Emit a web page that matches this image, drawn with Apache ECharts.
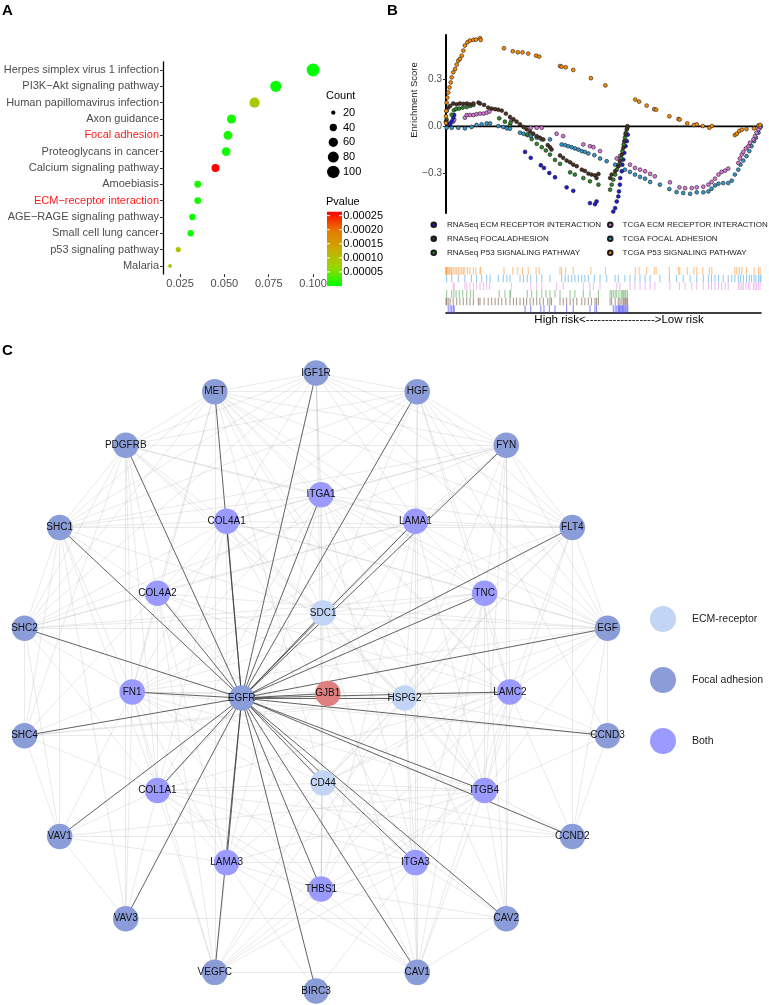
<!DOCTYPE html>
<html><head><meta charset="utf-8">
<script src="https://cdn.jsdelivr.net/npm/echarts@6/dist/echarts.min.js"></script>
<style>html,body{margin:0;padding:0;background:#fff}#c{width:769px;height:1005px}</style>
</head><body><div id="c"></div>
<script>
// ================= Panel A data =================
const pathways = ['Herpes simplex virus 1 infection','PI3K\u2212Akt signaling pathway','Human papillomavirus infection','Axon guidance','Focal adhesion','Proteoglycans in cancer','Calcium signaling pathway','Amoebiasis','ECM\u2212receptor interaction','AGE\u2212RAGE signaling pathway','Small cell lung cancer','p53 signaling pathway','Malaria'];
const highlighted = ['Focal adhesion','ECM\u2212receptor interaction'];
const geneRatio = [0.100,0.079,0.067,0.054,0.052,0.051,0.045,0.035,0.035,0.032,0.031,0.024,0.0194];
const counts = [105,83,70,57,55,53,47,37,37,34,33,25,18];
const pvalues = [0.000001,0.000003,0.00009,0.000008,0.000012,0.000006,0.000264,0.000012,0.000010,0.000006,0.000005,0.000095,0.000085];
const ratioTicks = [0.025,0.050,0.075,0.100];
const countBreaks = [20,40,60,80,100];
const pvalueBreaks = [0.00025,0.00020,0.00015,0.00010,0.00005];
const pvalueLimits = [0,0.000264];

// ================= Panel B data (rank %, enrichment score) =================
const tcgaP53 = [[0,0.021],[0,0.064],[0.1,0.098],[0.2,0.151],[0.4,0.183],[0.7,0.215],[1.1,0.247],[1.5,0.279],[1.8,0.311],[2.3,0.343],[2.9,0.364],[3.4,0.392],[3.9,0.417],[4.4,0.428],[5.0,0.449],[5.5,0.481],[6.0,0.513],[6.8,0.534],[7.6,0.545],[8.7,0.549],[9.5,0.551],[10.8,0.560],[11.0,0.549],[18.4,0.496],[21.2,0.477],[22.8,0.470],[24.3,0.470],[26.1,0.462],[28.6,0.449],[29.6,0.443],[36.2,0.383],[36.7,0.379],[38.0,0.375],[40.4,0.358],[46.0,0.306],[50.6,0.260],[60.1,0.170],[61.3,0.157],[63.7,0.132],[66.1,0.109],[66.7,0.106],[70.9,0.064],[73.8,0.047],[74.2,0.043],[76.6,0.019],[78.7,0.009],[79.6,0.013],[81.5,0.002],[83.6,-0.009],[84.4,0.002],[91.7,-0.055],[92.3,-0.047],[93.1,-0.030],[93.9,-0.021],[95.4,-0.017],[97.8,-0.013],[99.2,0.006],[99.7,0.009]];
const tcgaFocal = [[0.2,-0.009],[1.8,-0.009],[3.9,-0.009],[6.0,-0.013],[8.1,-0.004],[9.7,0.009],[11.3,0.013],[12.9,0.019],[14.0,0.019],[16.6,0.002],[18.2,-0.004],[19.3,-0.013],[20.3,-0.015],[23.5,-0.040],[24.6,-0.047],[25.8,-0.055],[26.9,-0.062],[28.8,-0.072],[30.4,-0.083],[33.0,-0.083],[36.7,-0.115],[37.8,-0.119],[38.8,-0.126],[39.9,-0.132],[40.9,-0.140],[42.0,-0.147],[43.1,-0.157],[44.1,-0.162],[45.2,-0.172],[47.1,-0.183],[48.9,-0.204],[51.0,-0.221],[53.7,-0.243],[54.7,-0.253],[56.8,-0.275],[58.4,-0.289],[60.0,-0.306],[61.6,-0.321],[63.2,-0.332],[64.8,-0.353],[67.9,-0.370],[70.9,-0.398],[73.2,-0.417],[75.3,-0.423],[77.5,-0.428],[79.6,-0.419],[81.7,-0.419],[83.3,-0.413],[84.3,-0.396],[85.4,-0.375],[86.5,-0.364],[88.0,-0.360],[89.6,-0.360],[90.7,-0.345],[91.7,-0.306],[92.8,-0.275],[93.5,-0.243],[94.4,-0.217],[95.4,-0.189],[96.3,-0.157],[97.0,-0.126],[97.8,-0.094],[98.4,-0.072],[99.2,-0.040],[99.7,-0.009],[100,0.002]];
const tcgaEcm = [[2.3,0.030],[2.6,0.043],[6.0,0.055],[6.6,0.072],[7.6,0.072],[8.7,0.072],[9.7,0.077],[10.8,0.081],[11.9,0.081],[12.9,0.087],[13.8,0.094],[20.8,0.038],[26.9,-0.009],[28.8,-0.009],[30.4,-0.009],[35.1,-0.047],[37.2,-0.062],[43.6,-0.115],[45.7,-0.126],[46.8,-0.132],[48.9,-0.157],[54.2,-0.204],[55.2,-0.189],[58.4,-0.243],[60.0,-0.264],[61.6,-0.275],[63.2,-0.285],[64.8,-0.302],[66.3,-0.317],[71.1,-0.355],[74.1,-0.387],[75.9,-0.392],[78.0,-0.392],[79.6,-0.387],[81.7,-0.383],[83.3,-0.370],[84.3,-0.353],[85.4,-0.332],[86.5,-0.306],[87.5,-0.289],[88.6,-0.281],[89.6,-0.268],[92.8,-0.232],[93.3,-0.204],[93.9,-0.179],[94.4,-0.162],[95.2,-0.140],[96.0,-0.126],[96.5,-0.104],[97.6,-0.083],[98.1,-0.062],[98.6,-0.040],[99.2,-0.019],[99.7,-0.004]];
const rnaseqEcm = [[0.7,0.017],[1.3,0.013],[1.8,0.032],[2.3,0.055],[2.6,0.072],[25.1,-0.162],[26.9,-0.200],[30.1,-0.247],[31.1,-0.264],[32.8,-0.296],[34.6,-0.323],[38.3,-0.387],[40.4,-0.409],[45.7,-0.487],[47.3,-0.494],[47.8,-0.477],[53.1,-0.541],[53.7,-0.519],[54.2,-0.477],[54.7,-0.445],[54.9,-0.413],[55.2,-0.370],[55.3,-0.328],[55.8,-0.285],[56.0,-0.243],[56.3,-0.211],[56.6,-0.168],[57.0,-0.126],[57.4,-0.094],[57.7,-0.053]];
const rnaseqFocal = [[0,0.032],[0.2,0.098],[0.7,0.119],[1.3,0.130],[2.3,0.145],[3.4,0.140],[4.4,0.145],[5.5,0.143],[6.6,0.145],[7.6,0.140],[8.7,0.145],[10.3,0.151],[10.8,0.145],[12.1,0.136],[13.4,0.119],[14.5,0.113],[15.6,0.109],[16.6,0.106],[17.7,0.100],[19.0,0.081],[20.3,0.060],[21.4,0.045],[22.4,0.030],[23.5,0.013],[24.6,-0.004],[25.6,-0.019],[26.7,-0.034],[27.7,-0.047],[28.8,-0.062],[29.8,-0.072],[30.9,-0.083],[32.3,-0.119],[33.0,-0.132],[33.5,-0.147],[36.2,-0.185],[37.2,-0.200],[38.3,-0.217],[39.4,-0.228],[40.4,-0.243],[41.5,-0.253],[43.1,-0.275],[44.1,-0.283],[45.2,-0.300],[46.2,-0.306],[47.3,-0.311],[47.8,-0.328],[48.4,-0.302],[52.1,-0.328],[52.6,-0.306],[53.7,-0.285],[54.7,-0.253],[55.2,-0.221],[55.8,-0.179],[56.3,-0.136],[56.6,-0.094],[57.0,-0.051],[57.4,-0.019],[57.6,0.002]];
const rnaseqP53 = [[0.2,0.043],[1.8,0.074],[2.5,0.102],[3.2,0.111],[4.2,0.113],[5.3,0.119],[6.6,0.123],[7.8,0.130],[8.7,0.136],[16.9,0.051],[18.7,0.030],[20.3,0.009],[20.5,0.023],[25.8,-0.051],[27.2,-0.081],[28.8,-0.111],[30.4,-0.132],[31.7,-0.153],[33.0,-0.179],[34.6,-0.213],[36.2,-0.238],[39.4,-0.292],[40.9,-0.306],[43.6,-0.328],[45.7,-0.349],[48.4,-0.370],[52.1,-0.402],[52.6,-0.370],[53.1,-0.338],[53.7,-0.306],[54.2,-0.275],[54.9,-0.243],[55.6,-0.200],[56.0,-0.157],[56.4,-0.115],[56.8,-0.072],[57.1,-0.040],[57.6,-0.009]];
const zeroLine = [[0,0],[100,0]];
const esTicks = [-0.3,0,0.3];
const riskLabel = 'High risk<------------------>Low risk';

// ================= Panel C data =================
const outerNodes = ['IGF1R','HGF','FYN','FLT4','EGF','CCND3','CCND2','CAV2','CAV1','BIRC3','VEGFC','VAV3','VAV1','SHC4','SHC2','SHC1','PDGFRB','MET'];
const innerNodes = ['ITGA1','LAMA1','TNC','LAMC2','ITGB4','ITGA3','THBS1','LAMA3','COL1A1','FN1','COL4A2','COL4A1'];
const coreNodes = ['SDC1','HSPG2','CD44','EGFR'];
const hubNodes = ['GJB1'];
const ecmGenes = ['SDC1','HSPG2','CD44'];
const bothGenes = innerNodes;
const focalGenes = outerNodes.concat(['EGFR']);
const egfrPartners = ['IGF1R','HGF','FYN','FLT4','EGF','CCND3','CCND2','CAV2','CAV1','BIRC3','VEGFC','VAV3','VAV1','SHC4','SHC2','SHC1','PDGFRB','MET','ITGA1','LAMA1','TNC','LAMC2','ITGB4','ITGA3','THBS1','LAMA3','COL1A1','FN1','COL4A2','COL4A1','SDC1','HSPG2','CD44','GJB1'];
const lightEdges = ('MET-IGF1R MET-HGF IGF1R-HGF IGF1R-FYN HGF-FYN MET-PDGFRB PDGFRB-FYN PDGFRB-SHC1 SHC1-SHC2 SHC1-FLT4 SHC2-EGF SHC2-SHC4 SHC4-CCND3 VAV1-CCND2 VAV1-VAV3 VAV3-CAV2 VEGFC-CAV1 CAV1-CAV2 CCND3-CCND2 FLT4-EGF FYN-FLT4 FYN-CAV2 PDGFRB-VAV3 SHC1-VAV1 HGF-CAV1 MET-VEGFC FLT4-CCND2 ' +
 'MET-ITGA1 MET-SDC1 MET-LAMA1 MET-TNC MET-HSPG2 MET-FN1 MET-COL4A2 MET-SHC1 MET-SHC2 MET-FYN MET-FLT4 MET-ITGB4 MET-CD44 MET-LAMC2 ' +
 'IGF1R-ITGA1 IGF1R-SHC1 IGF1R-PDGFRB IGF1R-COL4A1 IGF1R-SDC1 IGF1R-LAMA1 IGF1R-FLT4 IGF1R-EGF IGF1R-SHC2 IGF1R-CD44 ' +
 'HGF-LAMA1 HGF-ITGA1 HGF-COL4A1 HGF-SHC1 HGF-PDGFRB HGF-TNC HGF-EGF HGF-FLT4 HGF-SDC1 HGF-LAMC2 HGF-CCND3 ' +
 'FYN-LAMA1 FYN-ITGA1 FYN-COL4A1 FYN-SHC1 FYN-SHC2 FYN-TNC FYN-EGF FYN-LAMC2 FYN-ITGB4 FYN-SDC1 FYN-HSPG2 ' +
 'PDGFRB-COL4A1 PDGFRB-COL4A2 PDGFRB-SHC2 PDGFRB-FN1 PDGFRB-SDC1 PDGFRB-LAMA1 PDGFRB-ITGA1 PDGFRB-HSPG2 PDGFRB-SHC4 PDGFRB-COL1A1 ' +
 'SHC1-COL4A2 SHC1-FN1 SHC1-SHC4 SHC1-COL1A1 SHC1-ITGA1 SHC1-SDC1 SHC1-COL4A1 SHC1-VAV3 ' +
 'SHC2-FN1 SHC2-COL4A2 SHC2-COL4A1 SHC2-SDC1 SHC2-TNC SHC2-VAV1 SHC2-COL1A1 SHC2-LAMA1 ' +
 'SHC4-FN1 SHC4-COL1A1 SHC4-VAV1 SHC4-COL4A2 SHC4-LAMC2 SHC4-HSPG2 ' +
 'EGF-TNC EGF-LAMA1 EGF-SDC1 EGF-ITGA1 EGF-COL4A1 EGF-LAMC2 EGF-HSPG2 EGF-CD44 EGF-ITGB4 EGF-CCND3 EGF-FN1 EGF-COL4A2 EGF-CCND2 ' +
 'FLT4-TNC FLT4-LAMA1 FLT4-ITGA1 FLT4-COL4A1 FLT4-SDC1 FLT4-LAMC2 FLT4-HSPG2 FLT4-ITGB4 FLT4-CD44 ' +
 'CCND3-LAMC2 CCND3-ITGB4 CCND3-HSPG2 CCND3-FN1 CCND2-ITGB4 CCND2-LAMC2 CCND2-COL1A1 CCND2-CD44 ' +
 'CAV2-ITGB4 CAV2-ITGA3 CAV2-TNC CAV2-LAMC2 CAV2-CD44 CAV2-THBS1 CAV2-HSPG2 ' +
 'CAV1-ITGA3 CAV1-ITGB4 CAV1-THBS1 CAV1-CD44 CAV1-LAMA3 CAV1-LAMC2 CAV1-TNC CAV1-COL1A1 CAV1-SDC1 CAV1-HSPG2 ' +
 'BIRC3-LAMA3 BIRC3-ITGA3 ' +
 'VEGFC-LAMA3 VEGFC-COL1A1 VEGFC-THBS1 VEGFC-CD44 VEGFC-ITGA3 VEGFC-ITGB4 VEGFC-FN1 VEGFC-COL4A2 VEGFC-HSPG2 VEGFC-LAMC2 ' +
 'VAV3-COL1A1 VAV3-FN1 VAV1-COL1A1 VAV1-FN1 VAV1-LAMA3 VAV1-ITGB4 ' +
 'ITGA1-LAMA1 ITGA1-COL4A1 ITGA1-COL4A2 ITGA1-COL1A1 ITGA1-LAMA3 ITGA1-LAMC2 ITGA1-TNC ITGA1-THBS1 ITGA1-FN1 ITGA1-ITGB4 ITGA1-ITGA3 ' +
 'LAMA1-TNC LAMA1-ITGB4 LAMA1-ITGA3 LAMA1-COL4A2 LAMA1-FN1 LAMA1-COL1A1 LAMA1-LAMA3 LAMA1-THBS1 ' +
 'TNC-ITGB4 TNC-ITGA3 TNC-FN1 TNC-COL4A1 TNC-LAMC2 TNC-THBS1 LAMC2-ITGB4 LAMC2-ITGA3 LAMC2-FN1 LAMC2-COL1A1 LAMC2-COL4A2 ' +
 'ITGB4-ITGA3 ITGB4-LAMA3 ITGB4-COL1A1 ITGB4-FN1 ITGB4-THBS1 ITGA3-LAMA3 ITGA3-THBS1 ITGA3-COL1A1 ITGA3-FN1 ITGA3-COL4A1 ITGA3-COL4A2 ' +
 'THBS1-LAMA3 THBS1-COL1A1 THBS1-FN1 LAMA3-COL1A1 LAMA3-FN1 LAMA3-COL4A1 LAMA3-COL4A2 COL1A1-FN1 COL1A1-COL4A2 FN1-COL4A2 FN1-COL4A1 COL4A2-COL4A1 COL4A1-COL1A1 ' +
 'SDC1-FN1 SDC1-COL1A1 SDC1-LAMA1 SDC1-COL4A1 SDC1-TNC SDC1-THBS1 SDC1-LAMC2 SDC1-ITGB4 SDC1-HSPG2 ' +
 'HSPG2-FN1 HSPG2-LAMA1 HSPG2-LAMC2 HSPG2-ITGB4 HSPG2-COL4A1 HSPG2-COL4A2 HSPG2-TNC HSPG2-CD44 HSPG2-ITGA3 ' +
 'CD44-FN1 CD44-COL1A1 CD44-LAMA3 CD44-THBS1 CD44-ITGB4 CD44-LAMC2 CD44-TNC CD44-COL4A2 CD44-ITGA3').split(' ').map(s => s.split('-'));
const netLegend = ['ECM-receptor','Focal adhesion','Both'];

// ================= layout / style =================
const FONT = 'Liberation Sans, Arial, Helvetica, sans-serif';
const pColors = ['#00FF00','#98D700','#C9AB00','#E87600','#FF0000'];
const sizeOf = c => Math.sqrt(Math.max(2, 1.72 * c - 16));

const gA = {left:163, top:61.8, width:157, height:212.3};
const gB = {left:446, top:35, width:315, height:178};
const gR = {left:446, top:267, width:315, height:46};
const NET = {cx:316, cy:682, sx:296, sy:309, top:340, bottom:1005};
const rings = [
  {nodes: outerNodes, cx:0, cy:0, r:1, step:20},
  {nodes: innerNodes, cx:0.017, cy:0.032, r:0.638, step:30},
  {nodes: coreNodes, cx:0.024, cy:0.052, r:0.275, step:90},
  {nodes: hubNodes, cx:0.040, cy:0.037, r:0, step:0}
];
const catOf = n => ecmGenes.includes(n) ? 0 : (bothGenes.includes(n) ? 2 : (focalGenes.includes(n) ? 1 : 3));
const netNodes = [];
rings.forEach(rg => rg.nodes.forEach((n, i) => {
  const a = rg.step * i * Math.PI / 180;
  netNodes.push({name: n, value: [rg.cx + rg.r * Math.sin(a), rg.cy - rg.r * Math.cos(a)], category: catOf(n)});
}));
const netLinks = lightEdges.map(([s, t]) => ({source: s, target: t, lineStyle: {color: '#a8a8a8', width: 0.6, opacity: 0.42}}))
  .concat(egfrPartners.map(t => ({source: 'EGFR', target: t, lineStyle: {color: '#3a3a3a', width: 0.8, opacity: 1}})));

const bSets = [
  {name:'TCGA FOCAL ADHESION', data: tcgaFocal, color:'#3399cc', rug:'#55aadd', row:1},
  {name:'TCGA ECM RECEPTOR INTERACTION', data: tcgaEcm, color:'#dd77dd', rug:'#e49ae4', row:2},
  {name:'RNASeq ECM RECEPTOR INTERACTION', data: rnaseqEcm, color:'#1c1cd6', rug:'#4040ff', row:5},
  {name:'RNASeq P53 SIGNALING PATHWAY', data: rnaseqP53, color:'#2a8a2a', rug:'#5aaa5a', row:3},
  {name:'RNASeq FOCALADHESION', data: rnaseqFocal, color:'#4a3020', rug:'#7a5a48', row:4},
  {name:'TCGA P53 SIGNALING PATHWAY', data: tcgaP53, color:'#ff8c00', rug:'#ff9a40', row:0}
];

// ================= graphic (legends of A, panel letters, texts) =================
const graphics = [];
const letter = (t, x, y) => graphics.push({type:'text', left:x, top:y, style:{text:t, font:'bold 15px ' + FONT, fill:'#000'}});
letter('A', 2, 3); letter('B', 387, 3); letter('C', 2, 343);
graphics.push({type:'text', x:326, y:95.7, style:{text:'Count', font:'11px ' + FONT, fill:'#000', verticalAlign:'middle'}});
countBreaks.forEach((c, i) => {
  const y = 112.7 + i * 14.8;
  graphics.push({type:'circle', shape:{cx:333.3, cy:y, r:sizeOf(c) / 2}, style:{fill:'#000'}});
  graphics.push({type:'text', x:343, y:y, style:{text:String(c), font:'11px ' + FONT, fill:'#000', verticalAlign:'middle'}});
});
const bar = {x:327, y:211.7, w:15, h:74.3};
graphics.push({type:'text', x:326, y:202, style:{text:'Pvalue', font:'11px ' + FONT, fill:'#000', verticalAlign:'middle'}});
graphics.push({type:'rect', shape:{x:bar.x, y:bar.y, width:bar.w, height:bar.h}, style:{fill:{type:'linear', x:0, y:1, x2:0, y2:0, colorStops: pColors.map((c, i) => ({offset: i / (pColors.length - 1), color: c}))}}});
pvalueBreaks.forEach(v => {
  const y = bar.y + bar.h - (v - pvalueLimits[0]) / (pvalueLimits[1] - pvalueLimits[0]) * bar.h;
  graphics.push({type:'line', shape:{x1:bar.x, y1:y, x2:bar.x + 3, y2:y}, style:{stroke:'#fff', lineWidth:1}});
  graphics.push({type:'line', shape:{x1:bar.x + bar.w - 3, y1:y, x2:bar.x + bar.w, y2:y}, style:{stroke:'#fff', lineWidth:1}});
  graphics.push({type:'text', x:343.3, y:y, style:{text:v.toFixed(5), font:'11px ' + FONT, fill:'#000', verticalAlign:'middle'}});
});
graphics.push({type:'text', x:414, y:100, rotation:Math.PI / 2, style:{text:'Enrichment Score', font:'9.5px ' + FONT, fill:'#222', align:'center', verticalAlign:'middle'}});
graphics.push({type:'text', x:619, y:320, style:{text:riskLabel, font:'11.5px ' + FONT, fill:'#000', align:'center', verticalAlign:'middle'}});

// ================= option =================
const series = [];
series.push({
  type:'scatter', xAxisIndex:0, yAxisIndex:0,
  data: pathways.map((p, i) => [geneRatio[i], p, pvalues[i], counts[i]]),
  encode:{x:0, y:1},
  symbolSize: v => sizeOf(v[3]),
  itemStyle:{opacity:1}, silent:true
});
series.push({type:'line', xAxisIndex:1, yAxisIndex:1, data: zeroLine, symbol:'none', lineStyle:{color:'#000', width:1.6}, z:1, silent:true});
bSets.forEach(s => {
  series.push({type:'scatter', name:s.name, xAxisIndex:1, yAxisIndex:1, data:s.data, symbolSize:3.8,
    itemStyle:{color:s.color, borderColor:'#1a1a1a', borderWidth:0.6, opacity:1}, z:3, silent:true});
  series.push({type:'scatter', name:s.name + ' rug', xAxisIndex:2, yAxisIndex:2,
    data: s.data.map(d => [d[0], s.row + 0.5]), symbol:'rect', symbolSize:[1.1, 7.7],
    itemStyle:{color:s.rug, opacity:0.6}, silent:true});
});
series.push({
  type:'graph', layout:'none', coordinateSystem:'cartesian2d', xAxisIndex:3, yAxisIndex:3,
  data: netNodes, links: netLinks, symbolSize:25.5,
  categories: [
    {name:'ECM-receptor', itemStyle:{color:'#C2D5F5'}},
    {name:'Focal adhesion', itemStyle:{color:'#8B9DD9'}},
    {name:'Both', itemStyle:{color:'#9B9BFF'}},
    {name:'Other', itemStyle:{color:'#E07F7F'}}
  ],
  label:{show:true, position:'inside', formatter:'{b}', fontSize:10, color:'#111', fontFamily:FONT},
  emphasis:{disabled:true}, silent:true, z:2
});

const option = {
  animation:false,
  textStyle:{fontFamily:FONT},
  grid:[
    Object.assign({outerBoundsMode:'none', containLabel:false}, gA),
    Object.assign({outerBoundsMode:'none', containLabel:false}, gB),
    Object.assign({outerBoundsMode:'none', containLabel:false}, gR),
    {left:0, top:NET.top, width:769, height:NET.bottom - NET.top, outerBoundsMode:'none', containLabel:false}
  ],
  xAxis:[
    {gridIndex:0, type:'value', min:0.0154, max:0.1039, axisLine:{show:false},
      axisTick:{show:true, length:3, customValues:ratioTicks, lineStyle:{color:'#333'}},
      axisLabel:{customValues:ratioTicks, formatter:v => v.toFixed(3), fontSize:11, color:'#4d4d4d', margin:4},
      splitLine:{show:false}},
    {gridIndex:1, type:'value', min:0, max:100, show:false},
    {gridIndex:2, type:'value', min:0, max:100, axisLine:{show:true, onZero:false, lineStyle:{color:'#000', width:1.6}},
      axisTick:{show:false}, axisLabel:{show:false}, splitLine:{show:false}},
    {gridIndex:3, type:'value', min:(0 - NET.cx) / NET.sx, max:(769 - NET.cx) / NET.sx, show:false}
  ],
  yAxis:[
    {gridIndex:0, type:'category', inverse:true,
      data: pathways.map(p => highlighted.includes(p) ? {value:p, textStyle:{color:'#ff1a1a'}} : p),
      axisLine:{show:true, lineStyle:{color:'#000', width:1.3}},
      axisTick:{show:true, length:3, alignWithLabel:true, lineStyle:{color:'#333'}},
      axisLabel:{fontSize:11, color:'#4d4d4d', margin:4}, splitLine:{show:false}},
    {gridIndex:1, type:'value', min:-0.55, max:0.58,
      axisLine:{show:true, onZero:false, lineStyle:{color:'#000', width:2}},
      axisTick:{show:true, length:3, customValues:esTicks, lineStyle:{color:'#333'}},
      axisLabel:{customValues:esTicks, formatter:v => (v < 0 ? '\u2212' : '') + Math.abs(v).toFixed(1), fontSize:10, color:'#4d4d4d', margin:4},
      splitLine:{show:false}},
    {gridIndex:2, type:'value', min:0, max:6, inverse:true, show:false},
    {gridIndex:3, type:'value', inverse:true, min:(NET.top - NET.cy) / NET.sy, max:(NET.bottom - NET.cy) / NET.sy, show:false}
  ],
  visualMap:[{type:'continuous', show:false, seriesIndex:0, dimension:2, min:pvalueLimits[0], max:pvalueLimits[1], inRange:{color:pColors}}],
  legend:[
    {data:['RNASeq ECM RECEPTOR INTERACTION','RNASeq FOCALADHESION','RNASeq P53 SIGNALING PATHWAY'], orient:'vertical', left:430.5, top:219.7, padding:0,
      icon:'circle', itemWidth:4.5, itemHeight:4.5, itemGap:4, selectedMode:false,
      textStyle:{fontSize:8, color:'#222', lineHeight:10, padding:[0,0,0,6]}},
    {data:['TCGA ECM RECEPTOR INTERACTION','TCGA FOCAL ADHESION','TCGA P53 SIGNALING PATHWAY'], orient:'vertical', left:607, top:219.7, padding:0,
      icon:'circle', itemWidth:4.5, itemHeight:4.5, itemGap:4, selectedMode:false,
      textStyle:{fontSize:8, color:'#222', lineHeight:10, padding:[0,0,0,5]}},
    {data:netLegend, orient:'vertical', left:650, top:606, padding:0, icon:'circle', itemWidth:26, itemHeight:26, itemGap:35, selectedMode:false,
      textStyle:{fontSize:10.5, color:'#222', padding:[0,0,0,11]}}
  ],
  graphic: graphics,
  series: series
};
const chart = echarts.init(document.getElementById('c'));
chart.setOption(option);
</script>
</body></html>
